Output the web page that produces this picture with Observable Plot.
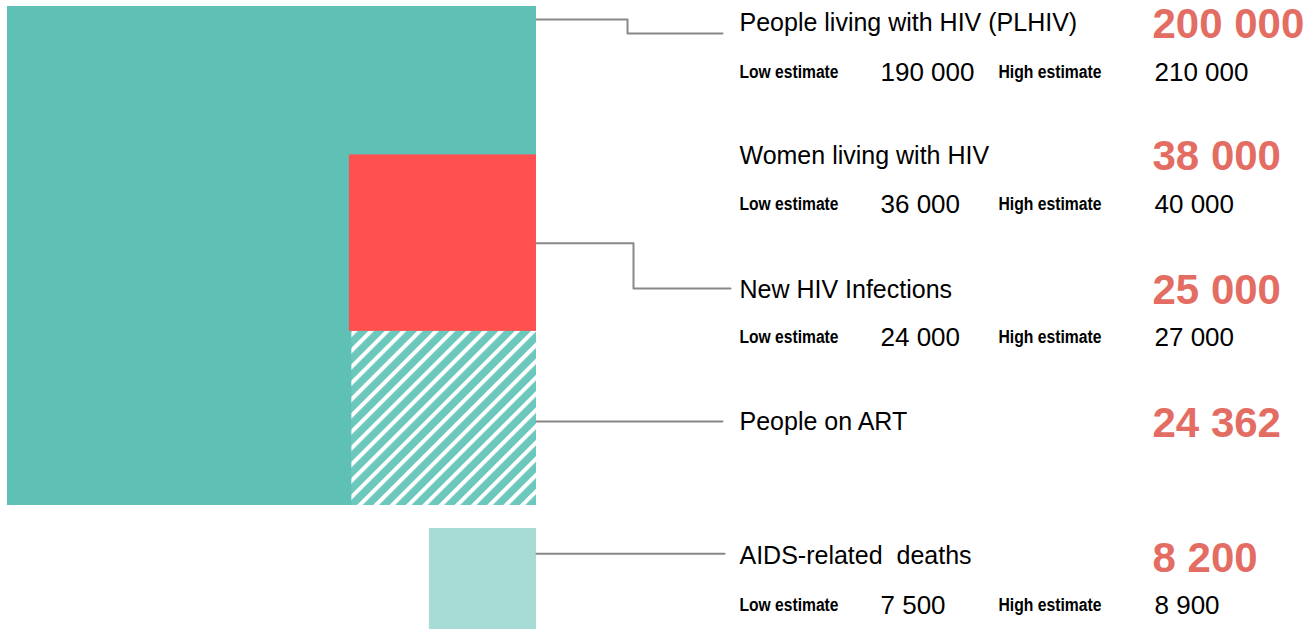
<!DOCTYPE html>
<html><head><meta charset="utf-8">
<script src="https://cdn.jsdelivr.net/npm/d3@7"></script>
<script src="https://cdn.jsdelivr.net/npm/@observablehq/plot@0.6"></script>
<style>
html,body{margin:0;padding:0;background:#fff;}
#chart{width:1311px;height:630px;}
</style>
</head><body><div id="chart"></div>
<script>
// ---- data ----
const categories = ["People living with HIV (PLHIV)", "Women living with HIV", "New HIV Infections", "People on ART", "AIDS-related  deaths"];
const keys = ["plhiv", "women", "new", "art", "deaths"];
const values = [200000, 38000, 25000, 24362, 8200];
const lowEst = [190000, 36000, 24000, null, 7500];
const highEst = [210000, 40000, 27000, null, 8900];

// ---- layout ----
const W = 1311, H = 630;
const S = Math.sqrt(values[0]);
const X = d3.scaleLinear([0, S], [7, 536]);
const Y = d3.scaleLinear([0, S], [6, 505]);
const xi = px => X.invert(px), yi = py => Y.invert(py);
const fmt = d3.formatLocale({decimal: ".", thousands: " ", grouping: [3], currency: ["", ""]}).format(",");
const val = k => values[keys.indexOf(k)];

const side = {art: Math.sqrt(val("art")), newi: Math.sqrt(val("new")), deaths: Math.sqrt(val("deaths"))};
const gap = yi(528) - yi(505);
const shapes = [
  {k: "plhiv", x1: 0, x2: S, y1: 0, y2: S, fill: "#5FC1B5"},
  {k: "art", x1: S - side.art, x2: S, y1: S - side.art, y2: S, fill: "url(#hatch)"},
  {k: "new", x1: S - side.newi, x2: S, y1: S - side.art - side.newi, y2: S - side.art, fill: "#FF5050"},
  {k: "deaths", x1: S - side.deaths, x2: S, y1: S + gap, y2: S + gap + side.deaths, fill: "#A6DCD5"}
];
const sh = k => shapes.find(s => s.k === k);

const rowY = [22, 155, 289, 421, 555];       // label row centres (px)
const estY = [72, 204, 337, null, 605];      // estimate row centres (px)
const numY = [24, 156, 290, 423, 558];

// connector polylines
const connectors = [];
function addConn(id, startY, elbowX, endY, endX) {
  const p = elbowX == null
    ? [[S, startY], [xi(endX), startY]]
    : [[S, startY], [xi(elbowX), startY], [xi(elbowX), yi(endY)], [xi(endX), yi(endY)]];
  p.forEach(([x, y]) => connectors.push({id, x, y}));
}
addConn("plhiv", yi(19), 627, 33, 722);
const n = sh("new"); addConn("new", (n.y1 + n.y2) / 2, 633, 288, 730);
addConn("art", yi(rowY[3]), null, null, 722);
const d = sh("deaths"); addConn("deaths", d.y1 + (d.y2 - d.y1) * 0.25, null, null, 724);

// text tables
const labels = categories.map((c, i) => ({t: c, x: xi(739), y: yi(rowY[i])}));
const nums = values.map((v, i) => ({t: fmt(v), x: xi(1152), y: yi(numY[i])}));
const estLabels = [], estVals = [];
lowEst.forEach((lo, i) => {
  if (lo == null) return;
  estLabels.push({t: "Low estimate", x: xi(739), y: yi(estY[i])});
  estLabels.push({t: "High estimate", x: xi(998), y: yi(estY[i])});
  estVals.push({t: fmt(lo), x: xi(880), y: yi(estY[i])});
  estVals.push({t: fmt(highEst[i]), x: xi(1154), y: yi(estY[i])});
});

const chart = Plot.plot({
  width: W, height: H,
  margin: 0,
  x: {domain: [0, S], range: [7, 536], axis: null},
  y: {domain: [0, S], range: [6, 505], axis: null},
  style: {fontFamily: "'Liberation Sans', Arial, sans-serif", background: "#fff"},
  marks: [
    Plot.rect(shapes, {x1: "x1", x2: "x2", y1: "y1", y2: "y2", fill: d => d.fill}),
    Plot.line(connectors, {x: "x", y: "y", z: "id", stroke: "#888888", strokeWidth: 2, curve: "linear"}),
    Plot.text(labels, {x: "x", y: "y", text: "t", textAnchor: "start", lineAnchor: "middle", fontSize: 25, fill: "#000"}),
    Plot.text(nums, {x: "x", y: "y", text: "t", textAnchor: "start", lineAnchor: "middle", fontSize: 42, fontWeight: "bold", fill: "#E36D63"}),
    Plot.text(estLabels, {x: "x", y: "y", text: "t", textAnchor: "start", lineAnchor: "middle", fontSize: 18, fontWeight: "bold", fill: "#000"}),
    Plot.text(estVals, {x: "x", y: "y", text: "t", textAnchor: "start", lineAnchor: "middle", fontSize: 26, fill: "#000"})
  ]
});

// condense the bold estimate labels (narrow font look)
chart.querySelectorAll("text").forEach(t => {
  if (t.textContent === "Low estimate") { t.setAttribute("textLength", 99); t.setAttribute("lengthAdjust", "spacingAndGlyphs"); }
  if (t.textContent === "High estimate") { t.setAttribute("textLength", 103); t.setAttribute("lengthAdjust", "spacingAndGlyphs"); }
});

// hatch pattern definition
const ns = "http://www.w3.org/2000/svg";
const defs = document.createElementNS(ns, "defs");
defs.innerHTML = `<pattern id="hatch" patternUnits="userSpaceOnUse" width="11.5" height="11.5" patternTransform="rotate(45)">
  <rect width="11.5" height="11.5" fill="#6CC7BC"></rect>
  <rect x="0" width="4" height="11.5" fill="#ffffff"></rect>
</pattern>`;
chart.insertBefore(defs, chart.firstChild);
document.getElementById("chart").appendChild(chart);
</script>
</body></html>
